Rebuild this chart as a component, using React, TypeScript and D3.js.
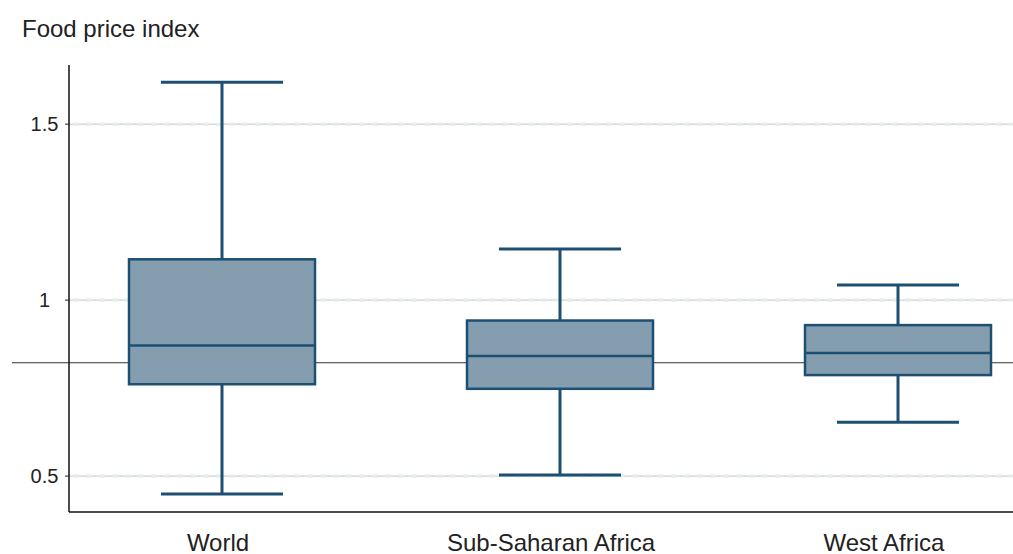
import React from "react";
import * as d3 from "d3";

const categories = ["World", "Sub-Saharan Africa", "West Africa"];
const whiskerMin = [0.449, 0.503, 0.653];
const q1 = [0.761, 0.748, 0.787];
const median = [0.871, 0.841, 0.85];
const q3 = [1.116, 0.942, 0.929];
const whiskerMax = [1.619, 1.145, 1.043];
const yTicks = [0.5, 1, 1.5];
const tickLabels = ["0.5", "1", "1.5"];
const referenceValue = 0.822;

const W = 1013;
const H = 554;
const left = 69;
const right = 1013;
const top = 65;
const bottom = 512;

export default function App() {
  const y = d3.scaleLinear().domain([0.398, 1.668]).range([bottom, top]);
  const x = d3.scalePoint<string>().domain(categories).range([222, 898]);
  const xLabel = d3.scalePoint<string>().domain(categories).range([218, 884]);
  const boxW = 186;
  const capW = 122;
  const stroke = "#1d4f72";
  const fill = "#849eb0";
  const font = "'Liberation Sans', Arial, Helvetica, sans-serif";

  return (
    <svg width={W} height={H} style={{ position: "absolute", left: 0, top: 0 }}>
      <rect width={W} height={H} fill="#fff" />
      <text x={22} y={37} fontFamily={font} fontSize={24} fill="#222">
        Food price index
      </text>
      {yTicks.map((t, i) => (
        <g key={t}>
          <line x1={left} x2={right} y1={y(t)} y2={y(t)} stroke="#c4c4c4" strokeWidth={1} />
          <line
            x1={left + 4}
            x2={right}
            y1={y(t)}
            y2={y(t)}
            stroke="#e2ecea"
            strokeWidth={3}
            strokeDasharray="6,7"
          />
          <line x1={left - 4} x2={left} y1={y(t)} y2={y(t)} stroke="#222" strokeWidth={1} />
          <text
            x={44.5}
            y={y(t)}
            dy="0.35em"
            textAnchor="middle"
            fontFamily={font}
            fontSize={20}
            fill="#222"
          >
            {tickLabels[i]}
          </text>
        </g>
      ))}
      <line x1={12} x2={right} y1={y(referenceValue)} y2={y(referenceValue)} stroke="#333" strokeWidth={1.2} />
      {categories.map((c, i) => {
        const cx = x(c) as number;
        return (
          <g key={c}>
            <line x1={cx} x2={cx} y1={y(whiskerMax[i])} y2={y(q3[i])} stroke={stroke} strokeWidth={3} />
            <line x1={cx} x2={cx} y1={y(q1[i])} y2={y(whiskerMin[i])} stroke={stroke} strokeWidth={3} />
            <line
              x1={cx - capW / 2}
              x2={cx + capW / 2}
              y1={y(whiskerMax[i])}
              y2={y(whiskerMax[i])}
              stroke={stroke}
              strokeWidth={3}
            />
            <line
              x1={cx - capW / 2}
              x2={cx + capW / 2}
              y1={y(whiskerMin[i])}
              y2={y(whiskerMin[i])}
              stroke={stroke}
              strokeWidth={3}
            />
            <rect
              x={cx - boxW / 2}
              y={y(q3[i])}
              width={boxW}
              height={y(q1[i]) - y(q3[i])}
              fill={fill}
              stroke={stroke}
              strokeWidth={2.5}
            />
            <line
              x1={cx - boxW / 2}
              x2={cx + boxW / 2}
              y1={y(median[i])}
              y2={y(median[i])}
              stroke={stroke}
              strokeWidth={2.5}
            />
            <text
              x={xLabel(c) as number}
              y={551}
              textAnchor="middle"
              fontFamily={font}
              fontSize={24}
              fill="#222"
            >
              {c}
            </text>
          </g>
        );
      })}
      <line x1={left} x2={left} y1={top} y2={bottom} stroke="#111" strokeWidth={1.5} />
      <line x1={left} x2={right} y1={bottom} y2={bottom} stroke="#111" strokeWidth={1.5} />
    </svg>
  );
}
